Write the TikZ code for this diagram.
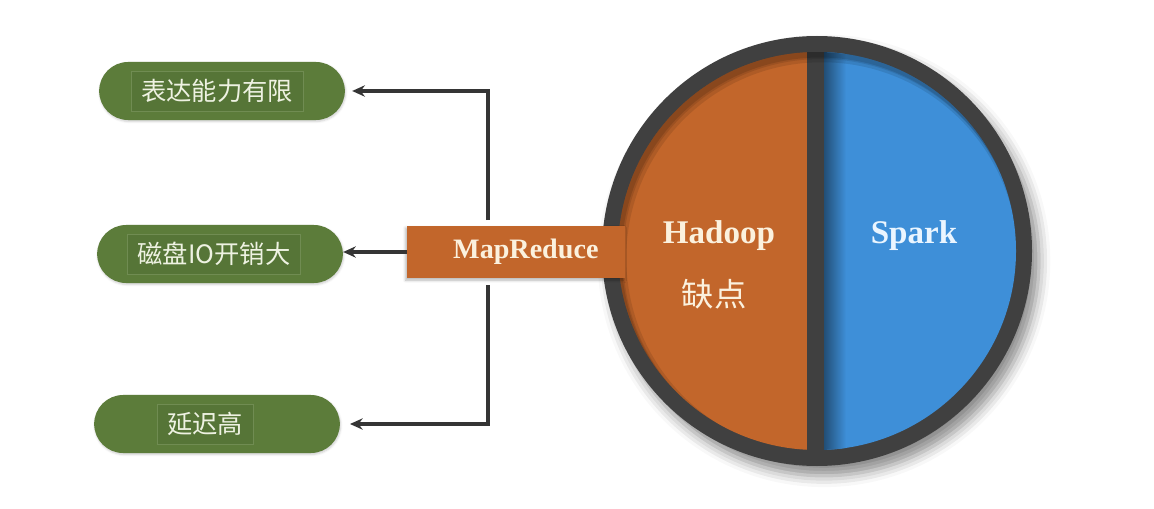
\documentclass[tikz,border=0pt]{standalone}
\usepackage{fontspec}
\setmainfont{Liberation Serif}
\newfontfamily\cjk{Noto Sans CJK SC}
\usepackage{tikz}
\usetikzlibrary{shapes.misc,arrows.meta,shadows.blur}
\definecolor{hadoop}{HTML}{C2662B}
\definecolor{spark}{HTML}{3E8FD8}
\definecolor{ring}{HTML}{404040}
\definecolor{leaf}{HTML}{5C7C3A}
\definecolor{leaftext}{HTML}{EEF2E2}
\definecolor{cream}{HTML}{FBF1DE}
\definecolor{icy}{HTML}{EAF5FF}
\definecolor{arrowgray}{HTML}{353535}
\tikzset{
  pill/.style={rounded rectangle, fill=leaf, minimum width=6.375cm, minimum height=1.45cm,
    blur shadow={shadow xshift=0.5pt, shadow yshift=-1pt, shadow blur radius=1.5pt, shadow opacity=20}},
  pilltext/.style={fill=leaf!94!black, draw=leaf!88!white, line width=0.3pt, text=leaftext,
    minimum height=1cm, inner xsep=0.25cm, font={\cjk\fontsize{18pt}{20pt}\selectfont}},
  mrbox/.style={rectangle, fill=hadoop, minimum width=5.45cm, minimum height=1.3cm, text=cream,
    font={\bfseries\fontsize{20pt}{22pt}\selectfont},
    blur shadow={shadow xshift=-1pt, shadow yshift=-1.5pt, shadow blur radius=2pt, shadow opacity=30}},
  bigword/.style={font={\bfseries\fontsize{23.5pt}{26pt}\selectfont}},
  arr/.style={draw=arrowgray, line width=2.2pt, -{Stealth[length=9pt,width=8pt]}}}

\begin{document}
\begin{tikzpicture}[x=0.025cm, y=0.025cm]
%% page size (pixels, y counted upwards)
    \useasboundingbox (0,0) rectangle (1154,508);
%% the big dark disc with its shadow
    \fill[ring, blur shadow={shadow xshift=5pt, shadow yshift=-7pt, shadow blur radius=8pt, shadow opacity=45}] (817,257) circle (215);
%% the two halves, cut to the inner disc
    \begin{scope}
    \clip (817,257) circle (199);
    \fill[hadoop] (600,0) rectangle (807,508);
    \fill[spark] (824,0) rectangle (1040,508);
    \shade[left color=spark!55!black, right color=spark] (824,0) rectangle (846,508);
    \shade[left color=hadoop!75!black, right color=hadoop] (600,0) rectangle (612,508);
%% a soft inner shadow along the upper rim
    \draw[black, opacity=.10, line width=16pt] (822,250) circle (207);
    \draw[black, opacity=.10, line width=10pt] (821,251) circle (205);
    \draw[black, opacity=.12, line width=5pt] (820,252) circle (202);
    \end{scope}
%% texts on the disc
    \node[bigword, text=cream, anchor=base] (hdw) at (719,265) {Hadoop};
    \node[bigword, text=icy, anchor=base] (spw) at (914,265) {Spark};
    \node[text=cream, font={\cjk\fontsize{23pt}{26pt}\selectfont}] (qd) at (714,214) {缺点};
%% the MapReduce tab lies over the rim
    \node[mrbox] (mr) at (516,256) {\hspace*{14pt}MapReduce};
%% the three green pills on the left
    \node[pill] (p1) at (222,417) {};
    \node[pill] (p2) at (220,254) {};
    \node[pill] (p3) at (217,84) {};
    \node[pilltext] (t1) at (217,417) {表达能力有限};
    \node[pilltext] (t2) at (214,254) {磁盘IO开销大};
    \node[pilltext] (t3) at (205,84) {延迟高};
%% connectors
    \coordinate (jt) at (488,288);
    \coordinate (jb) at (488,223);
    \draw[arr, shorten >=5pt] (jt) |- (p1.east);
    \draw[arr] (mr.west) -- (mr.west -| p2.east);
    \draw[arr, shorten >=7pt] (jb) |- (p3.east);
\end{tikzpicture}
\end{document}
